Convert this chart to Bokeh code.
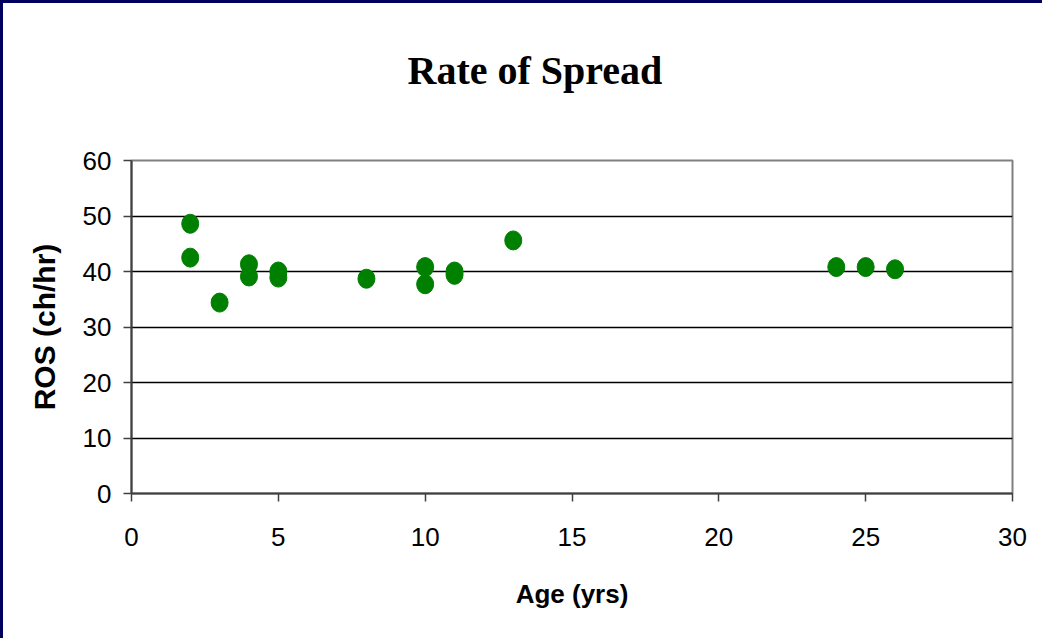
from bokeh.plotting import figure
from bokeh.models import Range1d, FixedTicker, Title
from bokeh.embed import file_html
from bokeh.resources import INLINE

age = [2, 2, 3, 4, 4, 5, 5, 8, 10, 10, 11, 11, 13, 24, 25, 26]
ros = [48.6, 42.5, 34.4, 41.3, 39.1, 40.0, 38.9, 38.7, 40.8, 37.7, 40.0, 39.4, 45.6, 40.8, 40.8, 40.4]
x_ticks = [0, 5, 10, 15, 20, 25, 30]
y_ticks = [0, 10, 20, 30, 40, 50, 60]
grid_ticks = [10, 20, 30, 40, 50]

p = figure(width=1042, height=638, output_backend="svg", toolbar_location=None,
           x_range=Range1d(0, 30), y_range=Range1d(0, 60),
           min_border_left=128, min_border_right=33, min_border_top=157, min_border_bottom=148,
           background_fill_color="white", border_fill_color="white")
p.styles = {"border-left": "3px solid #00005e", "border-top": "3px solid #00005e"}

spacer = Title(text=" ", text_font_size="10px", standoff=13)
p.add_layout(spacer, "above")
t = Title(text="Rate of Spread", align="left", text_font="Liberation Serif",
          text_font_size="40px", text_font_style="bold", text_color="black",
          standoff=84, offset=276)
p.add_layout(t, "above")

p.outline_line_color = "#808080"
p.outline_line_width = 2

p.xaxis.ticker = FixedTicker(ticks=x_ticks)
p.yaxis.ticker = FixedTicker(ticks=y_ticks)
for ax in (p.xaxis, p.yaxis):
    ax.axis_line_color = "#404040"
    ax.axis_line_width = 2
    ax.major_tick_line_color = "#404040"
    ax.major_tick_line_width = 1.5
    ax.major_tick_out = 8
    ax.major_tick_in = 0
    ax.minor_tick_line_color = None
    ax.major_label_text_font = "Liberation Sans"
    ax.major_label_text_font_size = "26px"
    ax.major_label_text_color = "black"
    ax.axis_label_text_font = "Liberation Sans"
    ax.axis_label_text_font_style = "bold"
    ax.axis_label_text_color = "black"

p.xaxis.axis_label = "Age (yrs)"
p.yaxis.axis_label = "ROS (ch/hr)"
p.xaxis.axis_label_text_font_size = "26px"
p.yaxis.axis_label_text_font_size = "30px"
p.xaxis.major_label_standoff = 26
p.yaxis.major_label_standoff = 12
p.xaxis.axis_label_standoff = 30
p.yaxis.axis_label_standoff = 19

p.xgrid.grid_line_color = None
p.ygrid.ticker = FixedTicker(ticks=grid_ticks)
p.ygrid.grid_line_color = "black"
p.ygrid.grid_line_width = 1.5
p.ygrid.grid_line_alpha = 1.0

p.ellipse(x=age, y=ros, width=17, height=19, width_units="screen", height_units="screen",
          fill_color="#008000", line_color="#008000")

open("out.html", "w").write(file_html(p, INLINE))
